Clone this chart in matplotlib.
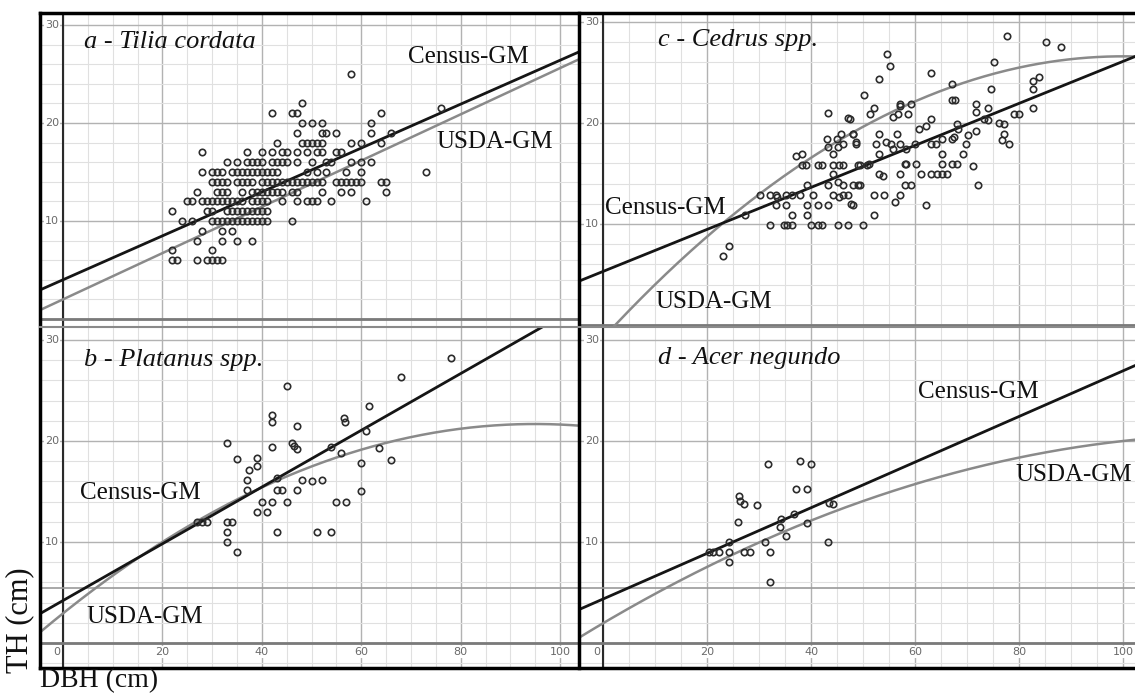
import numpy as np
import matplotlib
matplotlib.use("Agg")
import matplotlib.pyplot as plt
from matplotlib.lines import Line2D
from matplotlib.ticker import MultipleLocator

W, H = 1135, 695
SERIF = ['Liberation Serif', 'DejaVu Serif']

# ---- points: (DBH cm, TH) ----
tilia_pts = [
    (22, 6), (23, 6), (27, 6), (29, 6), (30, 6), (31, 6), (32, 6),
    (22, 7), (30, 7),
    (27, 8), (32, 8), (35, 8), (38, 8),
    (28, 9), (32, 9), (34, 9),
    (24, 10), (26, 10), (30, 10), (31, 10), (32, 10), (33, 10), (34, 10), (35, 10),
    (36, 10), (37, 10), (38, 10), (39, 10), (40, 10), (41, 10), (46, 10),
    (22, 11), (29, 11), (30, 11), (33, 11), (34, 11), (35, 11), (36, 11), (37, 11),
    (38, 11), (39, 11), (40, 11), (41, 11),
    (25, 12), (26, 12), (28, 12), (29, 12), (30, 12), (31, 12), (32, 12), (33, 12),
    (34, 12), (35, 12), (36, 12), (38, 12), (39, 12), (40, 12), (41, 12), (44, 12),
    (47, 12), (49, 12), (50, 12), (51, 12), (54, 12), (61, 12),
    (27, 13), (31, 13), (32, 13), (33, 13), (36, 13), (38, 13), (39, 13), (40, 13),
    (41, 13), (42, 13), (43, 13), (44, 13), (46, 13), (47, 13), (52, 13), (56, 13),
    (58, 13), (65, 13),
    (30, 14), (31, 14), (32, 14), (33, 14), (35, 14), (36, 14), (37, 14), (38, 14),
    (40, 14), (41, 14), (42, 14), (43, 14), (44, 14), (45, 14), (46, 14), (47, 14),
    (48, 14), (49, 14), (50, 14), (51, 14), (52, 14), (55, 14), (56, 14), (57, 14),
    (58, 14), (59, 14), (60, 14), (64, 14), (65, 14),
    (28, 15), (30, 15), (31, 15), (32, 15), (34, 15), (35, 15), (36, 15), (37, 15),
    (38, 15), (39, 15), (40, 15), (41, 15), (42, 15), (43, 15), (49, 15), (51, 15),
    (53, 15), (57, 15), (60, 15), (73, 15),
    (33, 16), (35, 16), (37, 16), (38, 16), (39, 16), (40, 16), (42, 16), (43, 16),
    (44, 16), (45, 16), (47, 16), (50, 16), (53, 16), (54, 16), (58, 16), (60, 16),
    (62, 16),
    (28, 17), (37, 17), (40, 17), (42, 17), (44, 17), (45, 17), (47, 17), (49, 17),
    (51, 17), (52, 17), (55, 17), (56, 17),
    (43, 18), (48, 18), (49, 18), (50, 18), (51, 18), (52, 18), (58, 18), (60, 18),
    (64, 18),
    (47, 19), (52, 19), (53, 19), (55, 19), (62, 19), (66, 19),
    (48, 20), (50, 20), (52, 20), (62, 20),
    (42, 21), (46, 21), (47, 21), (64, 21), (76, 21.5),
    (48, 22), (58, 25),
]

platanus_pts = [
    (27, 12), (28, 12), (29, 12), (33, 12), (34, 12), (33, 11), (33, 10), (35, 9),
    (39, 13), (41, 13), (40, 14), (42, 14), (45, 14), (43, 11), (51, 11), (54, 11),
    (55, 14), (57, 14),
    (45, 25.4), (42, 22.6), (42, 21.9), (47, 21.5), (33, 19.8), (42, 19.4),
    (46, 19.8), (46.5, 19.5), (47, 19.2), (35, 18.2), (39, 18.3), (39, 17.5),
    (37.5, 17.1), (37, 16.1), (37, 15.1), (43, 16.3), (43, 15.1), (44, 15.1),
    (47, 15.1), (48, 16.1),
    (78, 28.2), (68, 26.3), (61.5, 23.5), (61, 21), (56.5, 22.3), (56.7, 21.9),
    (54, 19.4), (56, 18.8), (63.5, 19.3), (60, 17.8), (66, 18.1), (52, 16.1),
    (60, 15), (50, 16),
]

cedrus_pts = [
    (23.1, 6.8), (24.2, 7.8), (27.3, 10.9), (30.2, 12.9), (32.1, 12.9), (33.3, 12.9),
    (33.5, 12.7), (33.3, 11.9), (35.2, 11.9), (32.1, 9.9), (34.8, 9.9), (35.3, 9.9),
    (36.3, 9.9), (35.2, 12.9), (36.3, 12.9), (37.9, 12.9), (40.3, 12.9), (36.3, 10.9),
    (39.2, 10.9), (39.2, 11.9), (41.3, 11.9), (43.2, 11.9), (39.2, 13.9), (37.1, 16.7),
    (38.2, 16.9), (38.2, 15.8), (39.0, 15.8), (41.3, 15.8), (42.2, 15.8), (44.2, 15.8),
    (45.3, 15.8), (46.2, 15.8), (49.1, 15.8), (50.7, 15.8), (43.2, 13.9), (44.3, 14.9),
    (45.1, 14.2), (46.1, 13.9), (48.1, 13.9), (49.1, 13.9), (39.9, 9.9), (41.3, 9.9),
    (42.2, 9.9), (45.1, 9.9), (47.2, 9.9), (50.0, 9.9), (48.1, 11.9), (44.3, 12.9),
    (45.3, 12.7), (46.2, 12.9), (47.2, 12.9), (47.6, 12.0), (43.0, 18.4), (45.0, 18.4),
    (45.8, 18.9), (46.2, 17.9), (45.1, 17.6), (43.2, 17.6), (44.2, 16.9), (48.1, 18.9),
    (48.7, 18.1), (48.7, 17.9), (43.2, 21.0), (47.2, 20.5), (50.2, 22.8), (51.3, 20.9),
    (77.6, 28.6), (54.7, 26.8), (55.2, 25.6), (53.1, 24.4), (63.1, 24.9), (75.1, 26.0),
    (74.6, 23.4), (67.2, 23.9), (67.2, 22.3), (67.6, 22.3), (52.1, 21.5), (57.1, 21.9),
    (57.1, 21.7), (59.2, 21.9), (55.7, 20.6), (56.7, 20.9), (58.7, 20.9), (63.1, 20.4),
    (62.1, 19.7), (60.7, 19.4), (71.7, 21.9), (71.7, 21.1), (74.1, 21.5), (73.3, 20.4),
    (74.1, 20.3), (71.7, 19.2), (68.1, 19.9), (68.2, 19.4), (67.5, 18.6), (67.1, 18.4),
    (65.2, 18.4), (70.1, 18.8), (79.1, 20.9), (79.9, 20.9), (76.2, 20.0), (77.2, 19.9),
    (77.2, 18.9), (76.7, 18.3), (78.1, 17.9), (53.1, 18.9), (52.5, 17.9), (54.5, 18.1),
    (55.3, 17.9), (55.7, 17.4), (57.1, 17.9), (53.1, 16.9), (56.6, 18.9), (58.2, 17.4),
    (60.0, 17.9), (63.0, 17.9), (64.0, 17.9), (65.2, 16.9), (65.2, 15.9), (67.1, 15.9),
    (68.0, 15.9), (69.2, 16.9), (69.8, 17.9), (71.1, 15.7), (49.4, 15.8), (51.2, 15.9),
    (53.1, 14.9), (53.8, 14.8), (57.1, 14.9), (58.1, 15.9), (58.3, 15.9), (60.2, 15.9),
    (61.2, 14.9), (63.1, 14.9), (64.2, 14.9), (65.2, 14.9), (66.2, 14.9), (58.1, 13.9),
    (59.2, 13.9), (72.1, 13.9), (52.1, 12.9), (54.1, 12.9), (57.1, 12.9), (56.2, 12.2),
    (52.1, 10.9), (62.1, 11.9), (49.4, 13.9), (47.5, 20.4), (48.1, 18.9),
    (85.1, 28.0), (88.1, 27.5), (82.6, 24.2), (83.8, 24.6), (82.6, 23.4), (82.6, 21.5),
]

acer_pts = [
    (20.3, 9), (21.2, 9), (22.3, 9), (24.2, 9), (24.2, 10), (24.2, 8), (27.2, 9),
    (28.2, 9), (32.1, 9), (31.2, 10), (32.1, 6), (25.9, 12), (27.2, 13.8),
    (29.7, 13.7), (34.2, 12.3), (34.0, 11.5), (35.2, 10.6), (36.7, 12.8), (39.2, 11.9),
    (43.2, 10), (43.4, 13.9), (44.3, 13.8), (31.8, 17.7), (37.8, 18), (40, 17.7),
    (26.2, 14.6), (26.4, 14.1), (37.2, 15.2), (39.3, 15.2),
]

# model curves (polynomial coefficients, highest power first)
census_a, usda_a = [0.224, 4.0], [0.236, 2.0]
census_b, usda_b = [0.281, 4.2], [-0.00208, 0.395, 2.93]
census_c, usda_c = [0.208, 5.3], [-0.00279, 0.558, -1.3]
census_d, usda_d = [0.226, 4.35], [-0.00123, 0.3035, 1.95]

y_ticks = [10, 20, 30]
x_ticks = [0, 20, 40, 60, 80, 100]

fig = plt.figure(figsize=(W / 100, H / 100), dpi=100)


def panel(box, xlim, ylim, pts, census, usda, xlabels):
    l, t, r, b = box
    ax = fig.add_axes([l / W, 1 - b / H, (r - l) / W, (b - t) / H])
    ax.set_xlim(xlim)
    ax.set_ylim(ylim)
    ax.xaxis.set_major_locator(MultipleLocator(20))
    ax.xaxis.set_minor_locator(MultipleLocator(5))
    ax.yaxis.set_major_locator(MultipleLocator(10))
    ax.yaxis.set_minor_locator(MultipleLocator(2))
    ax.set_axisbelow(True)
    ax.grid(which='minor', color='#e0e0e0', lw=0.8)
    ax.grid(which='major', color='#b2b2b2', lw=1.0)
    ax.tick_params(which='both', length=0, labelleft=False, labelbottom=False)
    for s in ax.spines.values():
        s.set_visible(False)
    ax.axvline(0, color='#2a2a2a', lw=1.5, zorder=1)
    ax.axhline(0, color='#7a7a7a', lw=2, zorder=1)
    xs = np.linspace(xlim[0], xlim[1], 400)
    ax.plot(xs, np.polyval(usda, xs), color='#8a8a8a', lw=1.8, zorder=2)
    ax.plot(xs, np.polyval(census, xs), color='#151515', lw=2, zorder=2)
    d, h = zip(*pts)
    ax.plot(d, h, 'o', ms=4.6, mfc='none', mec='#2c2c2c', mew=1.2, zorder=3)
    box_kw = dict(fc='white', ec='none', pad=0.5)
    for v in y_ticks:
        ax.text(-0.8, v, str(v), ha='right', va='center', fontsize=8,
                color='#6a6a6a', bbox=box_kw, zorder=4)
    if xlabels:
        for v in x_ticks:
            ax.text(v if v else -1.2, -0.9, str(v), ha='center', va='center',
                    fontsize=8, color='#6a6a6a', bbox=box_kw, zorder=4)
    return ax


panel((40, 13, 578, 327), (-4.63, 103.6), (-0.82, 31.22), tilia_pts,
      census_a, usda_a, False)
panel((578, 13, 1135, 327), (-4.81, 102.3), (-0.2, 30.89), cedrus_pts,
      census_c, usda_c, False)
axb = panel((40, 327, 578, 668), (-4.63, 103.6), (-2.48, 31.29), platanus_pts,
            census_b, usda_b, True)
axd = panel((578, 327, 1135, 668), (-4.81, 102.3), (-2.48, 31.29), acer_pts,
            census_d, usda_d, True)
for ax in (axb, axd):
    ax.axhline(5.4, color='#9a9a9a', lw=1.2, zorder=1)


def fline(x0, y0, x1, y1, color='black', lw=2.5):
    fig.add_artist(Line2D([x0 / W, x1 / W], [1 - y0 / H, 1 - y1 / H],
                          color=color, lw=lw, zorder=10))


fline(40, 13, 1135, 13)
fline(40, 13, 40, 668)
fline(40, 668, 1135, 668)
fline(578.5, 13, 578.5, 668)
fline(40, 327.5, 1135, 327.5, color='#8a8a8a', lw=1.5)


def ftext(x, y, s, size=18, **kw):
    fig.text(x / W, 1 - y / H, s, fontsize=size, family=SERIF, va='center',
             ha='left', color='#111111', zorder=11, **kw)


ftext(84, 42, 'a - Tilia cordata', 19, style='italic')
ftext(84, 360, 'b - Platanus spp.', 19, style='italic')
ftext(658, 40, 'c - Cedrus spp.', 19, style='italic')
ftext(658, 358, 'd - Acer negundo', 19, style='italic')

ftext(408, 57, 'Census-GM')
ftext(436, 142, 'USDA-GM')
ftext(80, 493, 'Census-GM')
ftext(86, 617, 'USDA-GM')
ftext(605, 208, 'Census-GM')
ftext(655, 302, 'USDA-GM')
ftext(918, 392, 'Census-GM')
ftext(1015, 475, 'USDA-GM')

ftext(40, 681, 'DBH (cm)', 20)
fig.text(20 / W, 1 - 620 / H, 'TH (cm)', fontsize=22, family=SERIF,
         rotation=90, ha='center', va='center', color='#111111')

fig.savefig('out.png', dpi=100)
